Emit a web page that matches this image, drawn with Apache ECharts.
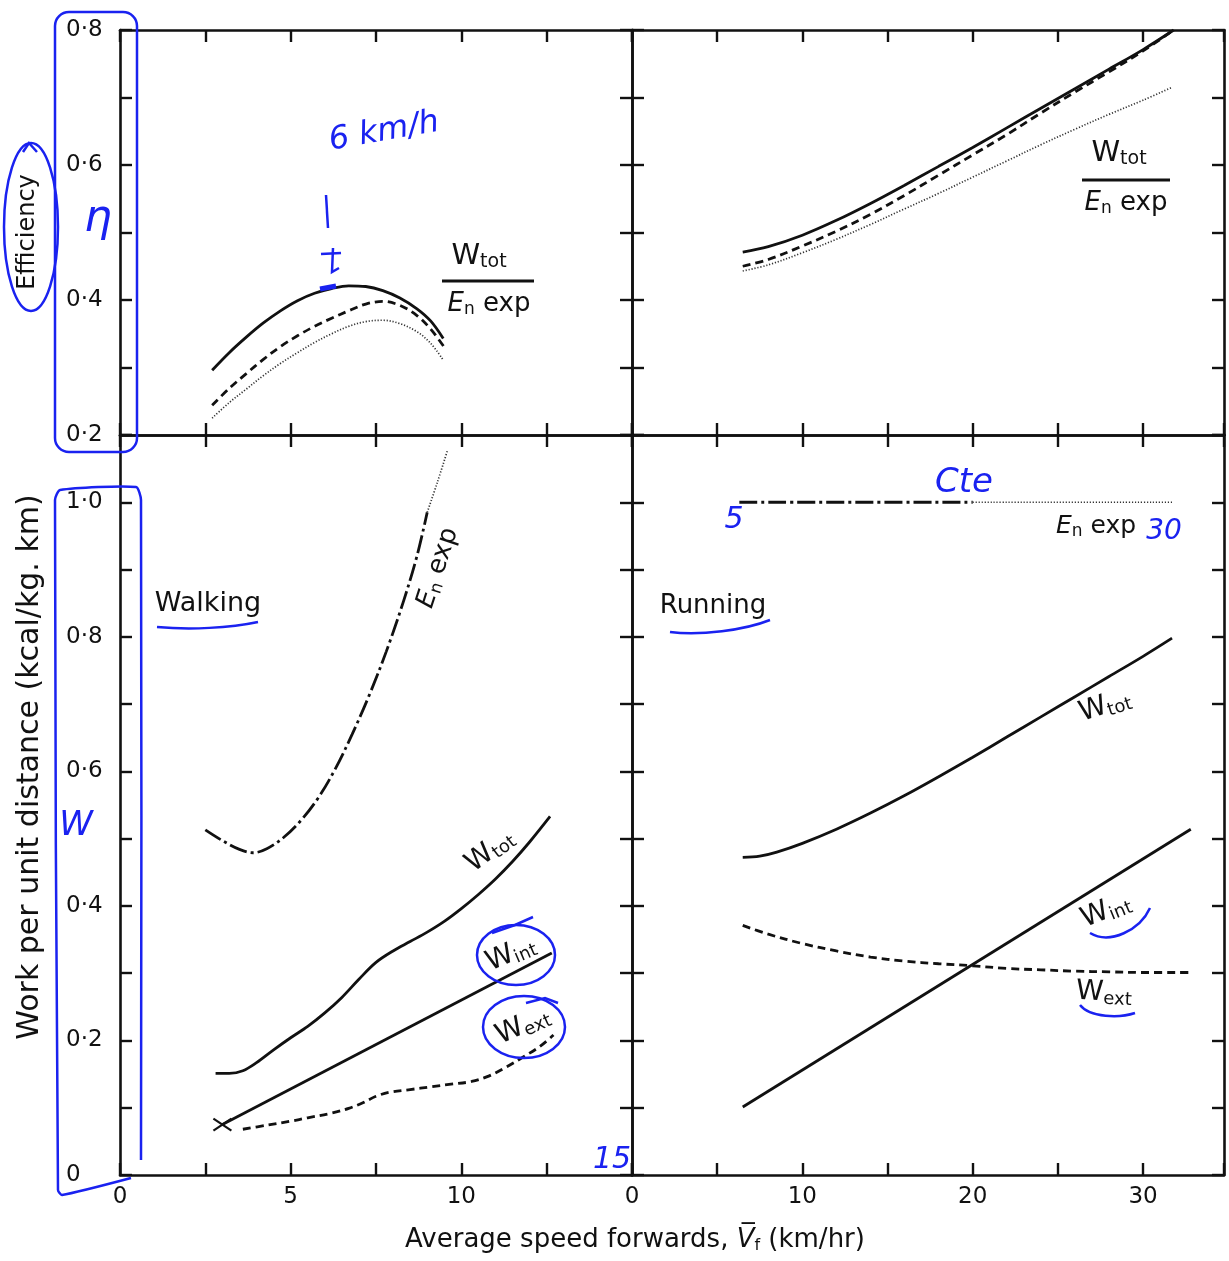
<!DOCTYPE html>
<html lang="en">
<head>
<meta charset="UTF-8">
<title>Work and efficiency of walking and running</title>
<script src="https://cdn.jsdelivr.net/npm/echarts@6/dist/echarts.min.js"></script>
<style>
    html, body { margin: 0; padding: 0; background: #fff; }
    #main { width: 1229px; height: 1261px; }
</style>
</head>
<body>
<div id="main"></div>
<script>
    var INK = '#111';
    var PEN = '#1a22f0';
    var FONT = '"DejaVu Sans", sans-serif';

    // efficiency, walking (top left) : [speed km/hr, efficiency]
    var walkEffSolid = [[2.7,0.296],[3.2,0.322],[3.7,0.345],[4.2,0.366],[4.7,0.384],[5.2,0.399],[5.7,0.410],[6.2,0.417],[6.7,0.421],[7.2,0.420],[7.7,0.414],[8.2,0.403],[8.7,0.387],[9.1,0.369],[9.47,0.343]];
    var walkEffDashed = [[2.7,0.244],[3.2,0.269],[3.7,0.291],[4.2,0.312],[4.7,0.331],[5.2,0.347],[5.7,0.361],[6.2,0.373],[6.7,0.384],[7.2,0.394],[7.7,0.398],[8.2,0.392],[8.7,0.377],[9.1,0.357],[9.5,0.330]];
    var walkEffDotted = [[2.7,0.225],[3.2,0.248],[3.7,0.268],[4.2,0.288],[4.7,0.306],[5.2,0.322],[5.7,0.337],[6.2,0.350],[6.7,0.361],[7.2,0.368],[7.7,0.370],[8.2,0.365],[8.7,0.353],[9.1,0.336],[9.47,0.311]];

    // efficiency, running (top right)
    var runEffSolid = [[6.5,0.471],[8,0.479],[10,0.496],[12,0.518],[14,0.543],[16,0.570],[18,0.598],[20,0.626],[22,0.655],[24,0.684],[26,0.713],[28,0.742],[30,0.771],[31.8,0.800]];
    var runEffDashed = [[6.5,0.450],[8,0.460],[10,0.480],[12,0.502],[14,0.527],[16,0.555],[18,0.585],[20,0.615],[22,0.645],[24,0.677],[26,0.708],[28,0.738],[30,0.769],[31.8,0.800]];
    var runEffDotted = [[6.5,0.443],[8,0.452],[10,0.470],[12,0.490],[14,0.512],[16,0.535],[18,0.558],[20,0.582],[22,0.606],[24,0.630],[26,0.653],[28,0.675],[30,0.696],[31.7,0.715]];

    // work per unit distance, walking (bottom left) : [speed, kcal/kg.km]
    var walkEnExp = [[2.5,0.513],[3.0,0.497],[3.5,0.484],[3.9,0.479],[4.3,0.485],[4.8,0.502],[5.3,0.527],[5.8,0.560],[6.3,0.603],[6.8,0.655],[7.3,0.713],[7.8,0.778],[8.3,0.852],[8.7,0.920],[9.0,0.985]];
    var walkEnExpHigh = [[9.0,0.985],[9.3,1.030],[9.6,1.078]];
    var walkWtot = [[2.8,0.151],[3.2,0.151],[3.6,0.155],[4.0,0.167],[4.5,0.186],[5.0,0.204],[5.5,0.221],[6.0,0.241],[6.5,0.264],[7.0,0.291],[7.5,0.316],[8.0,0.333],[8.5,0.347],[9.0,0.361],[9.5,0.377],[10.0,0.396],[10.5,0.417],[11.0,0.440],[11.5,0.466],[12.0,0.495],[12.6,0.533]];
    var walkWint = [[3.0,0.075],[12.65,0.330]];
    var walkWext = [[3.6,0.068],[4.3,0.074],[5.0,0.080],[5.5,0.085],[6.2,0.092],[6.7,0.099],[7.1,0.107],[7.5,0.117],[7.9,0.123],[8.5,0.127],[9.1,0.131],[9.7,0.135],[10.3,0.139],[10.8,0.147],[11.3,0.160],[11.8,0.175],[12.3,0.191],[12.7,0.208]];
    var walkStart = [[3.0,0.075]];

    // work per unit distance, running (bottom right)
    var runEnExp = [[6.3,1.0],[20,1.0]];
    var runEnExpHigh = [[20,1.0],[31.7,1.0]];
    var runWtot = [[6.5,0.472],[7.5,0.474],[8.5,0.480],[10,0.493],[12,0.514],[14,0.538],[16,0.564],[18,0.592],[20,0.621],[22,0.651],[24,0.681],[26,0.711],[28,0.741],[30,0.771],[31.7,0.798]];
    var runWint = [[6.5,0.101],[32.8,0.514]];
    var runWext = [[6.5,0.371],[8,0.358],[10,0.344],[12,0.333],[14,0.324],[16,0.318],[18,0.314],[20,0.311],[22,0.307],[24,0.305],[26,0.303],[28,0.302],[30,0.301],[32.8,0.301]];

    // tick labels
    var walkXTicks = [0, 5, 10];
    var runXTicks = [0, 10, 20, 30];
    var effYTicks = [0.2, 0.4, 0.6, 0.8];
    var workYTicks = [0, 0.2, 0.4, 0.6, 0.8, 1.0];

    function dot(v) {
        return v === 0 ? '0' : v.toFixed(1).replace('.', '\u00b7');
    }
    function pick(ticks, f) {
        return function (v) {
            for (var i = 0; i < ticks.length; i++) {
                if (Math.abs(ticks[i] - v) < 1e-6) return f(ticks[i]);
            }
            return '';
        };
    }

    var frame = { show: true, onZero: false, lineStyle: { color: INK, width: 2.6 } };
    var tick = { show: true, inside: true, length: 12, lineStyle: { color: INK, width: 2.4 } };

    function xAx(grid, range, pos, labels) {
        return {
            type: 'value', gridIndex: grid, position: pos,
            min: range[0], max: range[1], interval: range[2],
            axisLine: frame, axisTick: tick, splitLine: { show: false },
            axisLabel: labels ? {
                show: true, margin: 11, color: INK, fontFamily: FONT, fontSize: 23,
                formatter: pick(labels, function (v) { return String(v); })
            } : { show: false }
        };
    }
    function yAx(grid, range, pos, labels) {
        return {
            type: 'value', gridIndex: grid, position: pos,
            min: range[0], max: range[1], interval: range[2],
            axisLine: frame, axisTick: tick, splitLine: { show: false },
            axisLabel: labels ? {
                show: true, margin: 54, align: 'left', color: INK, fontFamily: FONT, fontSize: 23,
                formatter: pick(labels, dot)
            } : { show: false }
        };
    }

    var walkX = [0, 15, 2.5], runX = [0, 34.75, 5];
    var effY = [0.2, 0.8, 0.1], workY = [0, 1.1, 0.1];

    var lineKinds = {
        solid: { type: 'solid', width: 2.8, color: INK },
        dashed: { type: [8, 5], width: 2.8, color: INK },
        dotted: { type: [1.2, 1.8], width: 1.7, color: '#333' },
        dashdot: { type: [18, 4, 3, 4], width: 2.8, color: INK }
    };
    function curve(panel, data, kind) {
        return {
            type: 'line', xAxisIndex: panel * 2, yAxisIndex: panel * 2,
            data: data, showSymbol: false, smooth: 0.35, silent: true,
            lineStyle: lineKinds[kind]
        };
    }

    function sub(main, s, size, italic, tail) {
        return {
            text: '{m|' + main + '}{s|' + s + '}' + (tail ? '{t|' + tail + '}' : ''),
            rich: {
                m: { fontSize: size, fontFamily: FONT, fill: INK, fontStyle: italic ? 'italic' : 'normal' },
                s: { fontSize: Math.round(size * 0.66), fontFamily: FONT, fill: INK, padding: [Math.round(size * 0.42), 0, 0, 0] },
                t: { fontSize: size, fontFamily: FONT, fill: INK }
            }
        };
    }
    function label(x, y, content, rot) {
        return {
            type: 'text', x: x, y: y, rotation: (rot || 0) * Math.PI / 180, z: 50,
            style: Object.assign({ align: 'center', verticalAlign: 'middle' }, content)
        };
    }
    function plain(x, y, text, size, rot) {
        return label(x, y, { text: text, fontSize: size, fontFamily: FONT, fill: INK }, rot);
    }
    function pen(x, y, text, size, rot) {
        return {
            type: 'text', x: x, y: y, rotation: (rot || 0) * Math.PI / 180, z: 100,
            style: { text: text, fontSize: size, fontFamily: FONT, fontStyle: 'italic', fill: PEN, align: 'center', verticalAlign: 'middle' }
        };
    }
    function stroke(shapeType, shape, w) {
        return { type: shapeType, shape: shape, z: 100, style: { stroke: PEN, fill: 'none', lineWidth: w || 2.5 } };
    }

    var chart = echarts.init(document.getElementById('main'), null, { renderer: 'canvas' });

    var option = {
        animation: false,
        backgroundColor: '#fff',
        grid: [
            { left: 120, top: 30, width: 512, height: 405 },
            { left: 632, top: 30, width: 592, height: 405 },
            { left: 120, top: 435, width: 512, height: 740 },
            { left: 632, top: 435, width: 592, height: 740 }
        ].map(function (g) { return Object.assign({ containLabel: false, outerBoundsMode: 'none' }, g); }),
        xAxis: [
            xAx(0, walkX, 'bottom'), xAx(0, walkX, 'top'),
            xAx(1, runX, 'bottom'), xAx(1, runX, 'top'),
            xAx(2, walkX, 'bottom', walkXTicks), xAx(2, walkX, 'top'),
            xAx(3, runX, 'bottom', runXTicks), xAx(3, runX, 'top')
        ],
        yAxis: [
            yAx(0, effY, 'left', effYTicks), yAx(0, effY, 'right'),
            yAx(1, effY, 'left'), yAx(1, effY, 'right'),
            yAx(2, workY, 'left', workYTicks), yAx(2, workY, 'right'),
            yAx(3, workY, 'left'), yAx(3, workY, 'right')
        ],
        series: [
            curve(0, walkEffSolid, 'solid'),
            curve(0, walkEffDashed, 'dashed'),
            curve(0, walkEffDotted, 'dotted'),
            curve(1, runEffSolid, 'solid'),
            curve(1, runEffDashed, 'dashed'),
            curve(1, runEffDotted, 'dotted'),
            curve(2, walkEnExp, 'dashdot'),
            curve(2, walkEnExpHigh, 'dotted'),
            curve(2, walkWtot, 'solid'),
            curve(2, walkWint, 'solid'),
            curve(2, walkWext, 'dashed'),
            {
                type: 'custom', xAxisIndex: 4, yAxisIndex: 4, data: walkStart, silent: true,
                renderItem: function (params, api) {
                    var p = api.coord([api.value(0), api.value(1)]);
                    var s = { stroke: INK, lineWidth: 2.2 };
                    return {
                        type: 'group', children: [
                            { type: 'line', shape: { x1: p[0] - 9, y1: p[1] - 6, x2: p[0] + 9, y2: p[1] + 6 }, style: s },
                            { type: 'line', shape: { x1: p[0] - 9, y1: p[1] + 6, x2: p[0] + 9, y2: p[1] - 6 }, style: s }
                        ]
                    };
                }
            },
            curve(3, runEnExp, 'dashdot'),
            curve(3, runEnExpHigh, 'dotted'),
            curve(3, runWtot, 'solid'),
            curve(3, runWint, 'solid'),
            curve(3, runWext, 'dashed')
        ],
        graphic: [
            // axis titles
            plain(28, 232, 'Efficiency', 24, 90),
            plain(30, 767, 'Work per unit distance (kcal/kg. km)', 30, 90),
            label(635, 1240, {
                text: '{t|Average speed forwards, }{v|V\u0305}{f|f}{t| (km/hr)}',
                rich: {
                    t: { fontSize: 26, fontFamily: FONT, fill: INK },
                    v: { fontSize: 26, fontFamily: FONT, fill: INK, fontStyle: 'italic' },
                    f: { fontSize: 16, fontFamily: FONT, fill: INK, padding: [11, 0, 0, 0] }
                }
            }),
            // efficiency fractions
            label(479, 256, sub('W', 'tot', 29)),
            { type: 'line', z: 50, shape: { x1: 442, y1: 281, x2: 534, y2: 281 }, style: { stroke: INK, lineWidth: 2.8 } },
            label(489, 304, sub('E', 'n', 26, true, ' exp')),
            label(1119, 153, sub('W', 'tot', 29)),
            { type: 'line', z: 50, shape: { x1: 1082, y1: 180, x2: 1170, y2: 180 }, style: { stroke: INK, lineWidth: 2.8 } },
            label(1126, 203, sub('E', 'n', 26, true, ' exp')),
            // panel labels
            plain(208, 604, 'Walking', 27),
            plain(713, 606, 'Running', 26),
            label(438, 568, sub('E', 'n', 26, true, ' exp'), 72),
            label(490, 851, sub('W', 'tot', 28), 37),
            label(511, 954, sub('W', 'int', 28), 23),
            label(523, 1026, sub('W', 'ext', 28), 24),
            label(1096, 526, sub('E', 'n', 25, true, ' exp')),
            label(1105, 706, sub('W', 'tot', 28), 18),
            label(1106, 911, sub('W', 'int', 28), 22),
            label(1104, 993, sub('W', 'ext', 28), -3),
            // handwritten notes
            stroke('rect', { x: 55, y: 12, width: 82, height: 440, r: 14 }),
            stroke('polyline', { points: [[141, 1160], [141, 500], [136, 487], [60, 490], [55, 500], [58, 1190], [62, 1195], [131, 1178]], smooth: 0.2 }),
            stroke('ellipse', { cx: 31, cy: 227, rx: 27, ry: 84 }),
            stroke('polyline', { points: [[23, 152], [29, 143], [37, 152]] }),
            pen(98, 220, '\u03b7', 44),
            pen(384, 132, '6 km/h', 32, 10),
            stroke('line', { x1: 326, y1: 195, x2: 328, y2: 228 }),
            stroke('polyline', { points: [[333, 248], [332, 272], [339, 268]] }),
            stroke('line', { x1: 321, y1: 254, x2: 341, y2: 253 }),
            stroke('line', { x1: 320, y1: 289, x2: 336, y2: 286 }, 5),
            stroke('bezierCurve', { x1: 157, y1: 627, cpx1: 190, cpy1: 630, cpx2: 230, cpy2: 628, x2: 258, y2: 622 }),
            stroke('bezierCurve', { x1: 670, y1: 632, cpx1: 700, cpy1: 636, cpx2: 745, cpy2: 630, x2: 770, y2: 620 }),
            pen(76, 826, 'W', 34),
            stroke('ellipse', { cx: 516, cy: 955, rx: 39, ry: 30 }),
            stroke('polyline', { points: [[492, 933], [515, 925], [533, 917]] }),
            stroke('ellipse', { cx: 524, cy: 1027, rx: 41, ry: 31 }),
            stroke('polyline', { points: [[526, 1003], [545, 998], [558, 1003]] }),
            pen(964, 483, 'Cte', 34),
            pen(734, 520, '5', 30),
            pen(1164, 532, '30', 28),
            pen(612, 1160, '15', 30),
            stroke('bezierCurve', { x1: 1090, y1: 933, cpx1: 1110, cpy1: 945, cpx2: 1140, cpy2: 930, x2: 1150, y2: 908 }),
            stroke('bezierCurve', { x1: 1080, y1: 1005, cpx1: 1090, cpy1: 1018, cpx2: 1120, cpy2: 1018, x2: 1135, y2: 1013 })
        ]
    };
    chart.setOption(option);
</script>
</body>
</html>
